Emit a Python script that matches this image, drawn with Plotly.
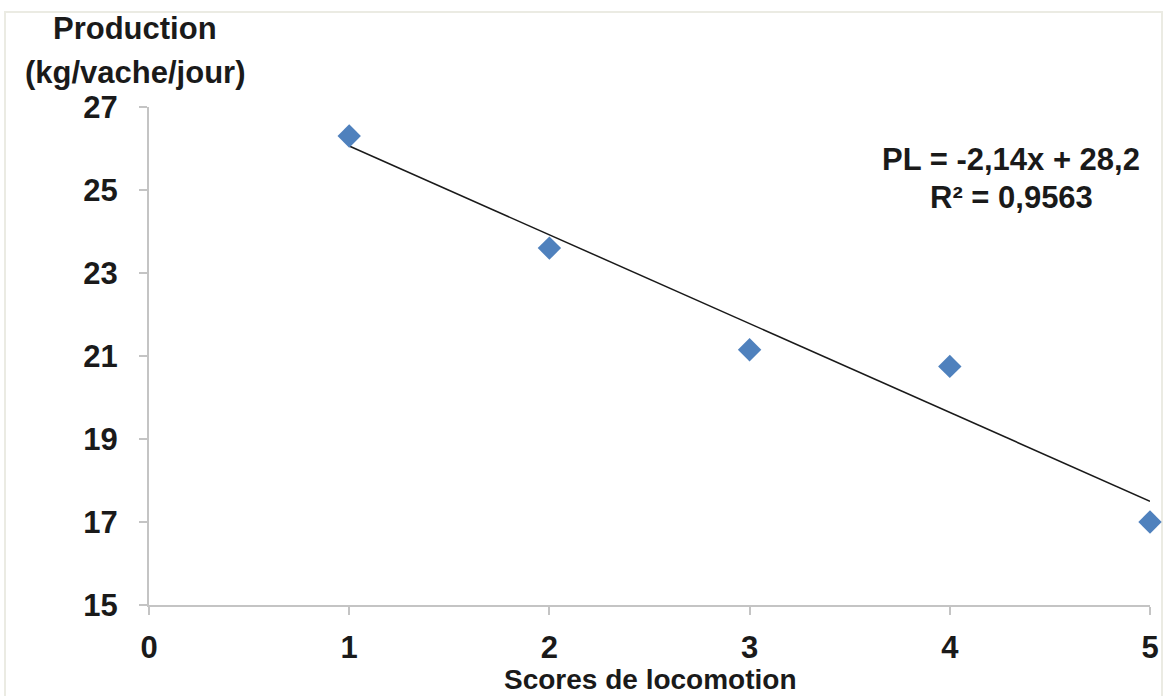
import plotly.graph_objects as go

# Data
scores = [1, 2, 3, 4, 5]
production = [26.3, 23.6, 21.15, 20.75, 17.0]
trend_x = [1, 5]
trend_y = [26.06, 17.5]
equation_lines = ["PL = -2,14x + 28,2", "R² = 0,9563"]
x_ticks = [0, 1, 2, 3, 4, 5]
y_ticks = [15, 17, 19, 21, 23, 25, 27]

W, H = 1166, 696
L, R, T, B = 149, 16, 107, 91
ph = H - T - B

def py(pix):
    return (H - B - pix) / ph

def px(pix):
    return (pix - L) / (W - L - R)

FONT = "Liberation Sans, Arial, sans-serif"
FS = 31

fig = go.Figure()
fig.add_trace(go.Scatter(x=trend_x, y=trend_y, mode="lines",
                         line=dict(color="#1a1a1a", width=1.5),
                         showlegend=False, hoverinfo="skip"))
fig.add_trace(go.Scatter(x=scores, y=production, mode="markers",
                         marker=dict(symbol="diamond", size=18, color="#4F81BD",
                                     line=dict(width=0)),
                         showlegend=False, cliponaxis=False))

tick_font = dict(family=FONT, size=FS, color="#1a1a1a", weight="bold")
fig.update_xaxes(range=[0, 5], tickvals=x_ticks, showgrid=False, zeroline=False,
                 showline=True, linecolor="#c4c4c4", linewidth=2,
                 ticks="outside", ticklen=8, tickwidth=1.5, tickcolor="#c4c4c4",
                 tickfont=tick_font, ticklabelstandoff=6)
fig.update_yaxes(range=[15, 27], tickvals=y_ticks, showgrid=False, zeroline=False,
                 showline=True, linecolor="#c4c4c4", linewidth=2,
                 ticks="outside", ticklen=8, tickwidth=1.5, tickcolor="#c4c4c4",
                 tickfont=tick_font, ticklabelstandoff=15)

ann_font = dict(family=FONT, size=FS, color="#1a1a1a")
anns = [
    dict(text="<b>Production</b>", x=px(135), y=py(28), xref="paper", yref="paper",
         showarrow=False, xanchor="center", yanchor="middle", font=ann_font),
    dict(text="<b>(kg/vache/jour)</b>", x=px(135), y=py(72), xref="paper", yref="paper",
         showarrow=False, xanchor="center", yanchor="middle", font=ann_font),
    dict(text="<b>" + equation_lines[0] + "</b>", x=px(1011), y=py(159), xref="paper", yref="paper",
         showarrow=False, xanchor="center", yanchor="middle", font=ann_font),
    dict(text="<b>" + equation_lines[1] + "</b>", x=px(1011), y=py(197), xref="paper", yref="paper",
         showarrow=False, xanchor="center", yanchor="middle", font=ann_font),
    dict(text="<b>Scores de locomotion</b>", x=px(650), y=py(696), xref="paper", yref="paper",
         showarrow=False, xanchor="center", yanchor="bottom", borderpad=0,
         font=dict(family=FONT, size=28, color="#1a1a1a")),
]
fig.update_layout(
    width=W, height=H,
    margin=dict(l=L, r=R, t=T, b=B, autoexpand=False),
    paper_bgcolor="white", plot_bgcolor="white",
    annotations=anns,
    shapes=[dict(type="rect", xref="paper", yref="paper",
                 x0=px(5), x1=px(1162), y0=py(700), y1=py(12),
                 line=dict(color="#ebebe3", width=2), layer="below")],
)
fig.write_html("out.html", config={"displayModeBar": False},
               post_script="document.body.style.margin='0';document.body.style.overflow='hidden';")
